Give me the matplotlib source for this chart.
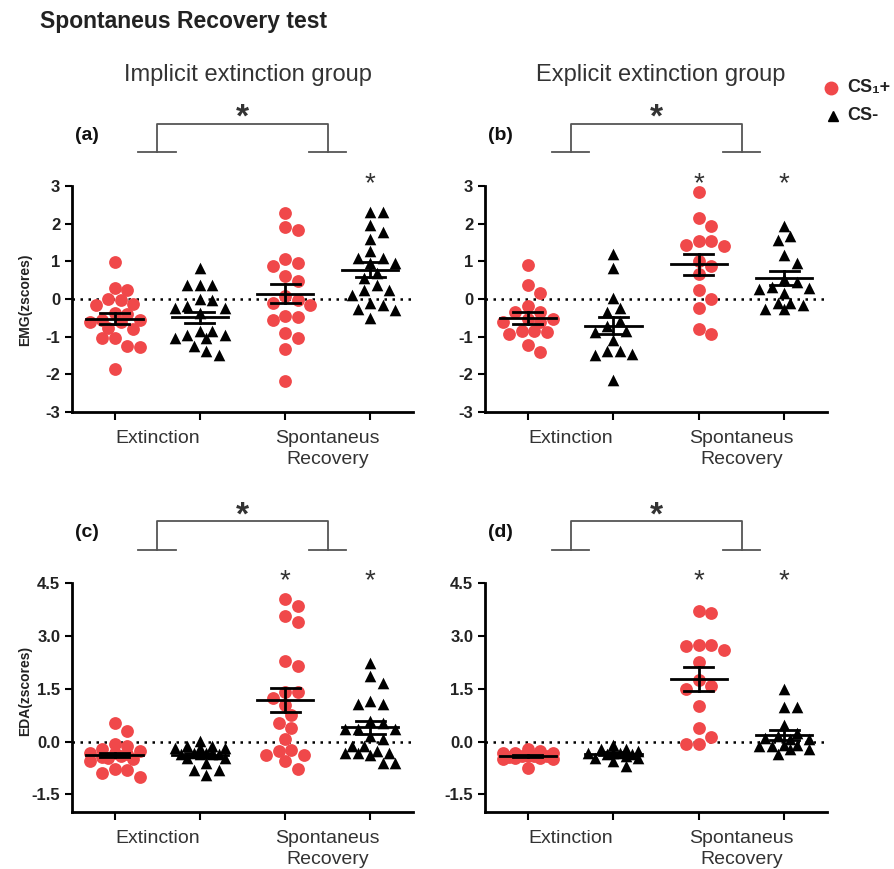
import numpy as np
import matplotlib
matplotlib.use('Agg')
import matplotlib.pyplot as plt

plt.rcParams['font.family'] = ['Liberation Sans', 'DejaVu Sans']

# group order in every panel: CS+ Ext, CS- Ext, CS+ SR, CS- SR
emg_implicit = [
    [0.98, 0.23, 0.28, -0.14, -0.04, 0.0, -0.17, -0.37, -0.39, -0.62, -0.76,
     -0.61, -0.79, -0.55, -0.57, -1.04, -1.24, -1.28, -1.04, -1.86],
    [0.82, 0.38, 0.38, 0.38, -0.04, 0.0, -0.24, -0.37, -0.24, -0.19, -0.86,
     -0.95, -1.03, -1.03, -0.95, -0.86, -1.25, -1.48, -1.39],
    [2.28, 1.91, 1.82, 1.06, 0.87, 0.95, 0.61, 0.47, -0.12, 0.09, -0.15,
     -0.02, -0.44, -0.57, -0.48, -0.90, -1.04, -1.32, -2.18],
    [2.30, 2.30, 1.97, 1.77, 1.59, 1.26, 0.95, 1.09, 1.09, 0.95, 0.56, 0.69,
     0.38, 0.11, 0.25, 0.25, -0.28, -0.30, -0.12, -0.15, -0.50],
]
emg_explicit = [
    [0.89, 0.38, 0.15, -0.20, -0.36, -0.34, -0.61, -0.54, -0.84, -0.89,
     -0.93, -0.84, -0.62, -1.22, -1.42, -0.54],
    [1.20, 0.83, 0.02, -0.36, -0.25, -0.58, -0.71, -1.08, -0.84, -0.87,
     -1.37, -1.46, -1.50, -1.37, -2.16],
    [2.83, 2.15, 1.93, 1.55, 1.42, 1.40, 1.53, 1.02, 0.87, 0.65, 0.24,
     -0.01, -0.23, -0.93, -0.80],
    [1.93, 1.66, 1.57, 1.16, 0.96, 0.52, 0.45, 0.33, 0.26, 0.17, 0.30,
     -0.10, -0.17, -0.26, -0.26, -0.12],
]
eda_implicit = [
    [0.52, 0.30, -0.08, -0.12, -0.20, -0.33, -0.31, -0.36, -0.27, -0.50,
     -0.55, -0.46, -0.81, -0.88, -0.77, -1.00, -0.40, -0.45],
    [0.02, -0.17, -0.17, -0.12, -0.17, -0.12, -0.36, -0.31, -0.36, -0.36,
     -0.36, -0.46, -0.46, -0.60, -0.81, -0.96, -0.81, -0.31],
    [4.06, 3.87, 3.58, 3.41, 2.30, 2.16, 1.42, 1.40, 1.23, 1.04, 0.75, 0.40,
     0.54, 0.07, -0.39, -0.39, -0.27, -0.24, -0.55, -0.79],
    [2.25, 1.87, 1.66, 1.06, 1.06, 1.16, 0.59, 0.37, 0.35, 0.52, 0.35, 0.16,
     0.07, -0.12, -0.31, -0.12, -0.33, -0.39, -0.27, -0.31, -0.60, -0.60],
]
eda_explicit = [
    [-0.20, -0.31, -0.41, -0.31, -0.41, -0.31, -0.27, -0.50, -0.50, -0.74,
     -0.41, -0.46, -0.46, -0.43, -0.41],
    [-0.10, -0.22, -0.31, -0.27, -0.31, -0.22, -0.31, -0.46, -0.41, -0.46,
     -0.55, -0.69, -0.36, -0.36],
    [3.66, 3.73, 2.75, 2.73, 2.75, 2.28, 2.61, 1.75, 1.57, 1.51, 1.02, 0.40,
     0.14, -0.08, -0.06],
    [1.49, 1.00, 1.00, 0.47, 0.26, 0.11, 0.09, 0.09, 0.16, -0.10, -0.12,
     -0.12, -0.10, -0.22, -0.22, -0.36],
]

# mean and SEM
means = {'a': [-0.52, -0.49, 0.14, 0.78], 'b': [-0.51, -0.71, 0.92, 0.55],
         'c': [-0.38, -0.38, 1.18, 0.41], 'd': [-0.41, -0.34, 1.78, 0.19]}
sems = {'a': [0.14, 0.15, 0.25, 0.20], 'b': [0.15, 0.22, 0.28, 0.18],
        'c': [0.07, 0.06, 0.34, 0.18], 'd': [0.04, 0.05, 0.34, 0.15]}
# groups marked with a star above them
stars = {'a': [3], 'b': [2, 3], 'c': [2, 3], 'd': [2, 3]}

x_labels = ['Extinction', 'Spontaneus\nRecovery']
RED = '#f0484a'
GRAY = '#555555'


def swarm(ax, center, values, diam, max_k=4):
    # beeswarm in pixel space, width limited so dense groups overlap
    pts = ax.transData.transform([(center, v) for v in values])
    order = np.argsort(-pts[:, 1])
    placed = []
    xs = np.zeros(len(values))
    steps = [0]
    for k in range(1, max_k + 1):
        steps += [k * diam / 2, -k * diam / 2]
    for i in order:
        y = pts[i, 1]
        best, best_d = None, -1
        for s in steps:
            x = pts[i, 0] + s
            d = min([np.hypot(x - px, y - py) for px, py in placed] or [1e9])
            if d >= diam * 0.92:
                best = x
                break
            if d > best_d + 1.0:
                best, best_d = x, d
        placed.append((best, y))
        xs[i] = best
    inv = ax.transData.inverted()
    return [inv.transform((x, 0))[0] for x in xs]


def panel(ax, key, data, ylim, yticks, yfmt, scale):
    ax.set_xlim(-0.5, 3.5)
    ax.set_ylim(*ylim)
    for sp in ['top', 'right']:
        ax.spines[sp].set_visible(False)
    for sp in ['left', 'bottom']:
        ax.spines[sp].set_linewidth(2)
    ax.spines['left'].set_bounds(ylim[0], yticks[-1])
    ax.set_yticks(yticks)
    ax.set_yticklabels([yfmt.format(t) for t in yticks], fontsize=12,
                       fontweight='bold', color='#222222')
    ax.set_xticks([0, 1, 2, 3])
    ax.set_xticklabels([])
    ax.tick_params(width=1.5, length=5)
    ax.tick_params(axis='x', length=6)
    for xc, lab in zip([0.5, 2.5], x_labels):
        ax.text(xc, -0.08, lab, transform=ax.get_xaxis_transform(), ha='center',
                va='top', fontsize=14, color='#333333', linespacing=1.3)
    ax.axhline(0, color='black', lw=1.8, ls=(0, (1, 2.2)), zorder=1)

    for g, vals in enumerate(data):
        xs = swarm(ax, g, vals, 12.5)
        if g % 2 == 0:
            ax.scatter(xs, vals, s=85, marker='o', color=RED, lw=0, zorder=3)
        else:
            ax.scatter(xs, vals, s=70, marker='^', color='black', lw=0, zorder=3)
        m, e = means[key][g], sems[key][g]
        ax.plot([g - 0.33, g + 0.33], [m, m], color='black', lw=2, zorder=4)
        ax.plot([g - 0.17, g + 0.17], [m + e, m + e], color='black', lw=2, zorder=4)
        ax.plot([g - 0.17, g + 0.17], [m - e, m - e], color='black', lw=2, zorder=4)
        ax.plot([g, g], [m - e, m + e], color='black', lw=2, zorder=4)

    # significance marks (heights in axis units)
    top = yticks[-1]
    for g in stars[key]:
        ax.text(g, top + 0.05 * scale, '*', ha='center', va='center',
                fontsize=20, color='#333333', clip_on=False)
    low = top + 0.9 * scale
    high = top + 1.65 * scale
    ax.plot([0.28, 0.72], [low, low], color=GRAY, lw=1.3, clip_on=False)
    ax.plot([2.28, 2.72], [low, low], color=GRAY, lw=1.3, clip_on=False)
    ax.plot([0.5, 0.5, 2.5, 2.5], [low, high, high, low], color=GRAY, lw=1.3,
            clip_on=False)
    ax.text(1.5, high + 0.15 * scale, '*', ha='center', va='center',
            fontsize=24, fontweight='bold', color='#333333', clip_on=False)
    ax.text(-0.47, low + 0.45 * scale, '(' + key + ')', ha='left', va='center',
            fontsize=14, fontweight='bold', color='#111111', clip_on=False)


fig = plt.figure(figsize=(8.95, 8.69), dpi=100)
ax_a = fig.add_axes([0.0804, 0.526, 0.381, 0.260])
ax_b = fig.add_axes([0.542, 0.526, 0.382, 0.260])
ax_c = fig.add_axes([0.0804, 0.0656, 0.381, 0.263])
ax_d = fig.add_axes([0.542, 0.0656, 0.382, 0.263])

panel(ax_a, 'a', emg_implicit, (-3, 3), [-3, -2, -1, 0, 1, 2, 3], '{:d}', 1.0)
panel(ax_b, 'b', emg_explicit, (-3, 3), [-3, -2, -1, 0, 1, 2, 3], '{:d}', 1.0)
panel(ax_c, 'c', eda_implicit, (-2.0, 4.5), [-1.5, 0.0, 1.5, 3.0, 4.5], '{:.1f}', 1.07)
panel(ax_d, 'd', eda_explicit, (-2.0, 4.5), [-1.5, 0.0, 1.5, 3.0, 4.5], '{:.1f}', 1.07)

fig.text(0.028, 0.655, 'EMG(zscores)', rotation=90, ha='center', va='center',
         fontsize=10, fontweight='bold', color='#222222')
fig.text(0.028, 0.205, 'EDA(zscores)', rotation=90, ha='center', va='center',
         fontsize=10, fontweight='bold', color='#222222')

fig.text(0.045, 0.975, 'Spontaneus Recovery test', ha='left', va='center',
         fontsize=16.5, fontweight='bold', color='#222222')
fig.text(0.277, 0.914, 'Implicit extinction group', ha='center', va='center',
         fontsize=17, color='#333333')
fig.text(0.738, 0.914, 'Explicit extinction group', ha='center', va='center',
         fontsize=17, color='#333333')

# legend
fig.lines.append(plt.Line2D([0.929], [0.899], transform=fig.transFigure,
                            marker='o', ms=9, color=RED, lw=0))
fig.lines.append(plt.Line2D([0.931], [0.867], transform=fig.transFigure,
                            marker='^', ms=7, color='black', lw=0))
fig.text(0.947, 0.899, 'CS\u2081+', ha='left', va='center', fontsize=13,
         fontweight='bold', color='#222222')
fig.text(0.947, 0.867, 'CS-', ha='left', va='center', fontsize=13,
         fontweight='bold', color='#222222')

fig.savefig('out.png', dpi=100)
